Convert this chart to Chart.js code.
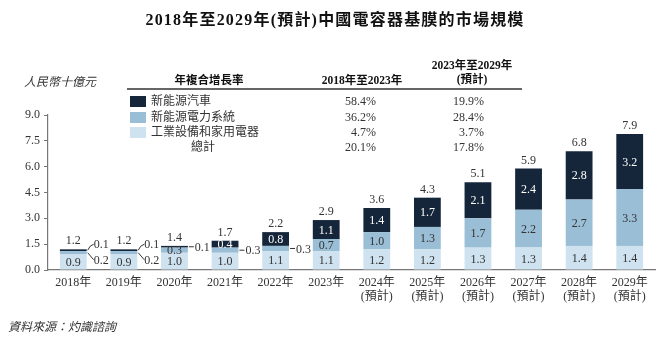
<!DOCTYPE html>
<html>
<head>
<meta charset="utf-8">
<script src="https://cdn.jsdelivr.net/npm/chart.js@4.4.1/dist/chart.umd.min.js"></script>
<style>
  html,body{margin:0;padding:0;background:#fff;}
  #wrap{position:relative;width:660px;height:355px;overflow:hidden;background:#fff;}
  canvas{position:absolute;left:0;top:0;}
  .t{position:absolute;white-space:nowrap;color:#222;font-family:"Liberation Serif","Noto Sans CJK TC",serif;line-height:1;}
</style>
</head>
<body>
<div id="wrap"><canvas id="c" width="660" height="355"></canvas></div>
<script>
// ---- data ----
const categories = ['2018年','2019年','2020年','2021年','2022年','2023年',
  ['2024年','(預計)'],['2025年','(預計)'],['2026年','(預計)'],['2027年','(預計)'],['2028年','(預計)'],['2029年','(預計)']];
const industrial = [0.9,0.9,1.0,1.0,1.1,1.1,1.2,1.2,1.3,1.3,1.4,1.4];   // 工業設備和家用電器
const power      = [0.2,0.2,0.3,0.3,0.3,0.7,1.0,1.3,1.7,2.2,2.7,3.3];   // 新能源電力系統
const nev        = [0.1,0.1,0.1,0.4,0.8,1.1,1.4,1.7,2.1,2.4,2.8,3.2];   // 新能源汽車
const totals     = [1.2,1.2,1.4,1.7,2.2,2.9,3.6,4.3,5.1,5.9,6.8,7.9];
const seriesNames = ['新能源汽車','新能源電力系統','工業設備和家用電器','總計'];
const cagr1823 = ['58.4%','36.2%','4.7%','20.1%'];
const cagr2329 = ['19.9%','28.4%','3.7%','17.8%'];
const yTicks = [0,1.5,3.0,4.5,6.0,7.5,9.0];

const colors = {nev:'#15263a', power:'#99bed6', industrial:'#cfe2ef'};
const SERIF = '"Liberation Serif","Noto Sans CJK TC",serif';

// labels that sit outside a thin segment: datasetIndex-categoryIndex -> leader style
const outsideLabels = {'2-0':'up','1-0':'down','2-1':'up','1-1':'down','2-2':'line','1-3':'line','1-4':'line'};

const labelPlugin = {
  id:'segLabels',
  afterDatasetsDraw(chart){
    const ctx = chart.ctx;
    ctx.save();
    ctx.font = '12px ' + SERIF;
    chart.data.datasets.forEach((ds,d)=>{
      const meta = chart.getDatasetMeta(d);
      meta.data.forEach((bar,i)=>{
        const v = ds.data[i];
        const top = Math.min(bar.y, bar.base), bottom = Math.max(bar.y, bar.base);
        const ym = (top+bottom)/2;
        const txt = v.toFixed(1);
        const mode = outsideLabels[d+'-'+i];
        if(!mode){
          ctx.fillStyle = d===2 ? '#ffffff' : '#333333';
          ctx.textAlign='center'; ctx.textBaseline='middle';
          ctx.fillText(txt, bar.x, ym+1);
          return;
        }
        const r = bar.x + bar.width/2;
        ctx.strokeStyle='#333'; ctx.fillStyle='#333'; ctx.lineWidth=1;
        ctx.textAlign='left'; ctx.textBaseline='middle';
        ctx.beginPath();
        if(mode==='line'){
          ctx.moveTo(r+1, ym); ctx.lineTo(r+6, ym); ctx.stroke();
          ctx.fillText(txt, r+7, ym+1);
        } else if(mode==='up'){
          ctx.moveTo(r+1, ym); ctx.quadraticCurveTo(r+3, ym-5, r+7, ym-6); ctx.stroke();
          ctx.fillText(txt, r+7, ym-5);
        } else {
          ctx.moveTo(r+1, ym); ctx.lineTo(r+7, ym+7); ctx.stroke();
          ctx.fillText(txt, r+7, ym+8);
        }
      });
    });
    // totals
    const metas = chart.data.datasets.map((_,d)=>chart.getDatasetMeta(d));
    ctx.fillStyle='#333'; ctx.textAlign='center'; ctx.textBaseline='bottom';
    totals.forEach((t,i)=>{
      const topY = Math.min(...metas.map(m=>m.data[i].y));
      ctx.fillText(t.toFixed(1), metas[0].data[i].x, topY-2);
    });
    ctx.restore();
  }
};

new Chart(document.getElementById('c'), {
  type:'bar',
  data:{
    labels: categories,
    datasets:[
      {label:seriesNames[2], data:industrial, backgroundColor:colors.industrial},
      {label:seriesNames[1], data:power, backgroundColor:colors.power},
      {label:seriesNames[0], data:nev, backgroundColor:colors.nev}
    ]
  },
  options:{
    responsive:false, animation:false, devicePixelRatio:1,
    layout:{padding:{top:115, right:5, left:0, bottom:0}},
    datasets:{bar:{categoryPercentage:1.0, barPercentage:0.53, borderWidth:0}},
    plugins:{legend:{display:false}, tooltip:{enabled:false}, title:{display:false}},
    scales:{
      x:{
        stacked:true,
        grid:{display:false, drawTicks:false},
        border:{display:true, color:'#777', width:1.2},
        ticks:{color:'#333', font:{family:SERIF, size:12, lineHeight:1.15}, padding:6, maxRotation:0, autoSkip:false},
        afterFit(s){ s.height = 85; }
      },
      y:{
        stacked:true, min:0, max:9,
        afterBuildTicks(s){ s.ticks = yTicks.map(v=>({value:v})); },
        grid:{drawOnChartArea:false, drawTicks:true, tickLength:4, color:'#777'},
        border:{display:true, color:'#777', width:1.2},
        ticks:{color:'#333', font:{family:SERIF, size:12}, padding:4, callback:v=>Number(v).toFixed(1)},
        afterFit(s){ s.width = 48; }
      }
    }
  },
  plugins:[labelPlugin]
});

// ---- text overlays (title, unit, CAGR table, source) ----
const wrap = document.getElementById('wrap');
function addText(txt, x, y, align, css){
  const el = document.createElement('div');
  el.className='t'; el.textContent = txt;
  el.style.left = x+'px'; el.style.top = y+'px';
  const tx = align==='center' ? '-50%' : align==='right' ? '-100%' : '0';
  el.style.transform = 'translate('+tx+',-50%)';
  Object.assign(el.style, css||{});
  wrap.appendChild(el); return el;
}
function addBox(x,y,w,h,color){
  const el=document.createElement('div');
  Object.assign(el.style,{position:'absolute',left:x+'px',top:y+'px',width:w+'px',height:h+'px',background:color});
  wrap.appendChild(el);
}
addText('2018年至2029年(預計)中國電容器基膜的市場規模', 335, 20, 'center', {fontSize:'16px', fontWeight:'bold', color:'#111', letterSpacing:'1.2px'});
addText('人民幣十億元', 24, 82, 'left', {fontSize:'12px', fontStyle:'italic', color:'#333'});
addText('年複合增長率', 209, 81, 'center', {fontSize:'11.5px', fontWeight:'bold', color:'#111'});
addText('2018年至2023年', 362, 81, 'center', {fontSize:'11.5px', fontWeight:'bold', color:'#111'});
addText('2023年至2029年', 472, 66, 'center', {fontSize:'11.5px', fontWeight:'bold', color:'#111'});
addText('(預計)', 472, 80, 'center', {fontSize:'11.5px', fontWeight:'bold', color:'#111'});
addBox(127, 88, 395, 1.5, '#666');
const rowY = [101,117,132,147];
const swatch = [colors.nev, colors.power, colors.industrial];
for(let k=0;k<3;k++){
  addBox(130, rowY[k]-5.5, 16, 11, swatch[k]);
  addText(seriesNames[k], 151, rowY[k], 'left', {fontSize:'12px', color:'#333'});
}
addText(seriesNames[3], 203, rowY[3], 'center', {fontSize:'12px', color:'#333'});
for(let k=0;k<4;k++){
  addText(cagr1823[k], 376, rowY[k], 'right', {fontSize:'12px', color:'#333'});
  addText(cagr2329[k], 484, rowY[k], 'right', {fontSize:'12px', color:'#333'});
}
addText('資料來源：灼識諮詢', 8, 327, 'left', {fontSize:'12px', fontStyle:'italic', color:'#333'});
</script>
</body>
</html>
